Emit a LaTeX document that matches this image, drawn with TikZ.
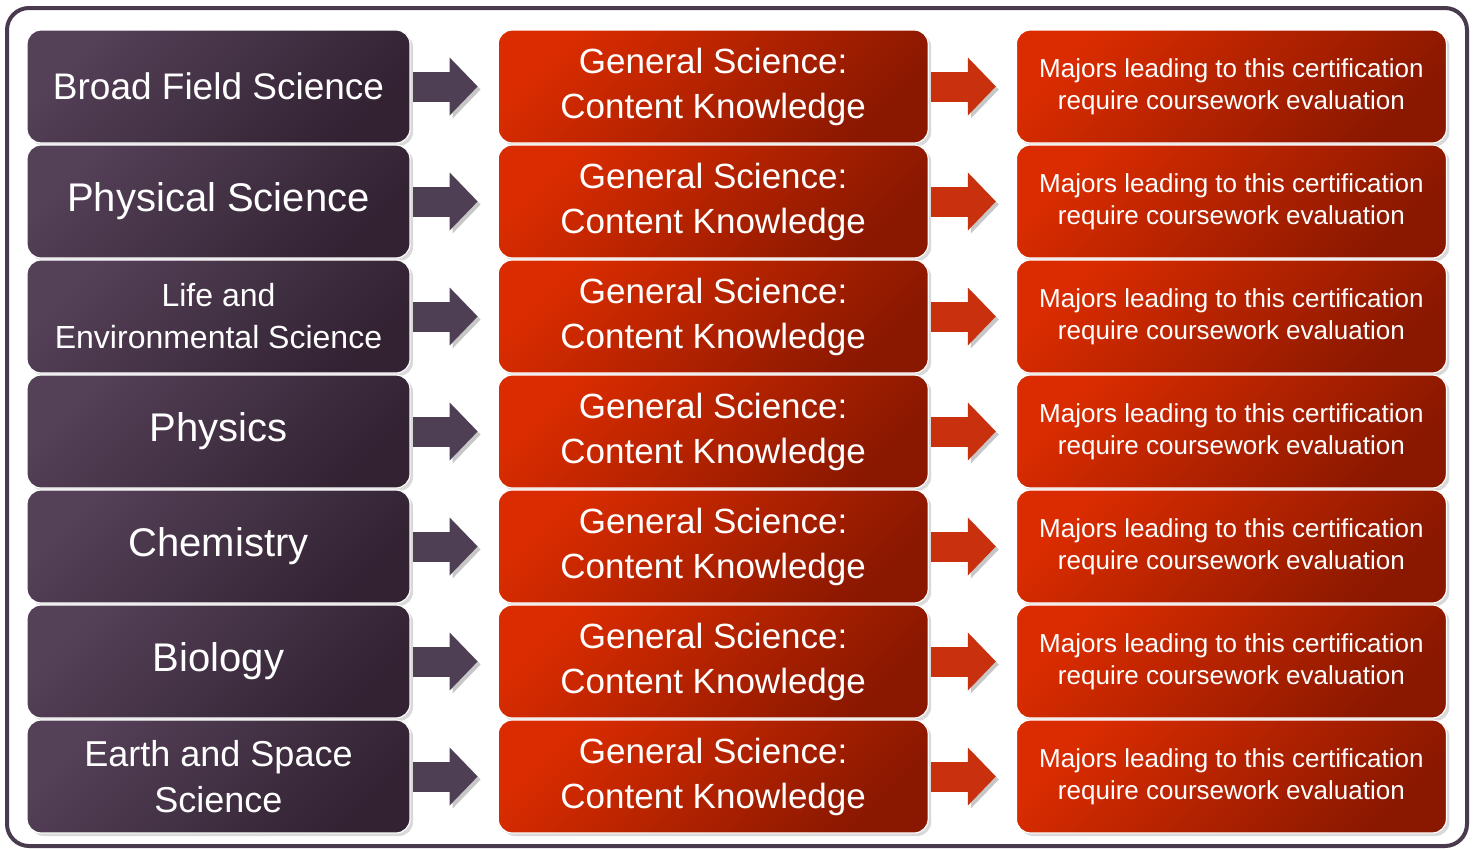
\documentclass[tikz,border=0pt]{standalone}
\usepackage{fontspec}
\setmainfont{Liberation Sans}
\usepackage{tikz}
\usetikzlibrary{arrows.meta, positioning, shadows}
\definecolor{cPlum}{RGB}{84,64,87}
\definecolor{cPlumDark}{RGB}{50,34,50}
\definecolor{cRust}{RGB}{218,44,0}
\definecolor{cRustDark}{RGB}{138,24,0}
\definecolor{cPlumArrow}{RGB}{79,63,85}
\definecolor{cRustArrow}{RGB}{201,48,13}
\definecolor{cFrame}{RGB}{74,58,77}
\tikzset{
	card/.style     ={rectangle, rounded corners=14pt, minimum height=113pt, align=center, text=white, draw=white, line width=1.2pt,
	                  drop shadow={shadow xshift=3pt, shadow yshift=-3pt, opacity=0.3}},
	field/.style    ={card, minimum width=383pt, top color=cPlum, bottom color=cPlumDark, shading angle=45, font=\fontsize{40}{46}\selectfont},
	exam/.style     ={card, minimum width=430pt, top color=cRust, bottom color=cRustDark, shading angle=45, font=\fontsize{35}{45}\selectfont},
	note/.style     ={card, minimum width=430pt, top color=cRust, bottom color=cRustDark, shading angle=45, font=\fontsize{26}{32}\selectfont},
	blockflow/.style={line width=30pt, -{Triangle[width=58pt, length=28pt, line width=0pt]}, shorten <=2pt, shorten >=20pt,
	                  preaction={draw=black, opacity=0.22, transform canvas={shift={(3pt,-3pt)}}}},
	frame/.style    ={draw=cFrame, line width=4pt, rounded corners=22pt},
}
\begin{document}
\begin{tikzpicture}[x=1pt, y=-1pt, node distance=0.8pt and 87pt]
	\useasboundingbox (0,0) rectangle (1476,849);
	\draw[frame] (7,8) rectangle (1467,846);
	% certification fields
	\node[field, font=\fontsize{37}{44}\selectfont] (bfs) at (218.5,86.5) {Broad Field Science};
	\node[field, below=of bfs] (phys) {Physical Science};
	\node[field, below=of phys, font=\fontsize{32}{42}\selectfont] (life) {Life and\\Environmental Science};
	\node[field, below=of life] (phy) {Physics};
	\node[field, below=of phy] (chem) {Chemistry};
	\node[field, below=of chem] (bio) {Biology};
	\node[field, below=of bio, font=\fontsize{36}{46}\selectfont] (earth) {Earth and Space\\Science};
	% test and note for every field
	\foreach \f in {bfs,phys,life,phy,chem,bio,earth}{
		\node[exam, right=of \f] (gs-\f) {General Science:\\Content Knowledge};
		\node[note, right=of gs-\f] (mj-\f) {Majors leading to this certification\\require coursework evaluation};
		\draw[blockflow, draw=cPlumArrow] (\f) -- (gs-\f);
		\draw[blockflow, draw=cRustArrow] (gs-\f) -- (mj-\f);
	}
\end{tikzpicture}
\end{document}
